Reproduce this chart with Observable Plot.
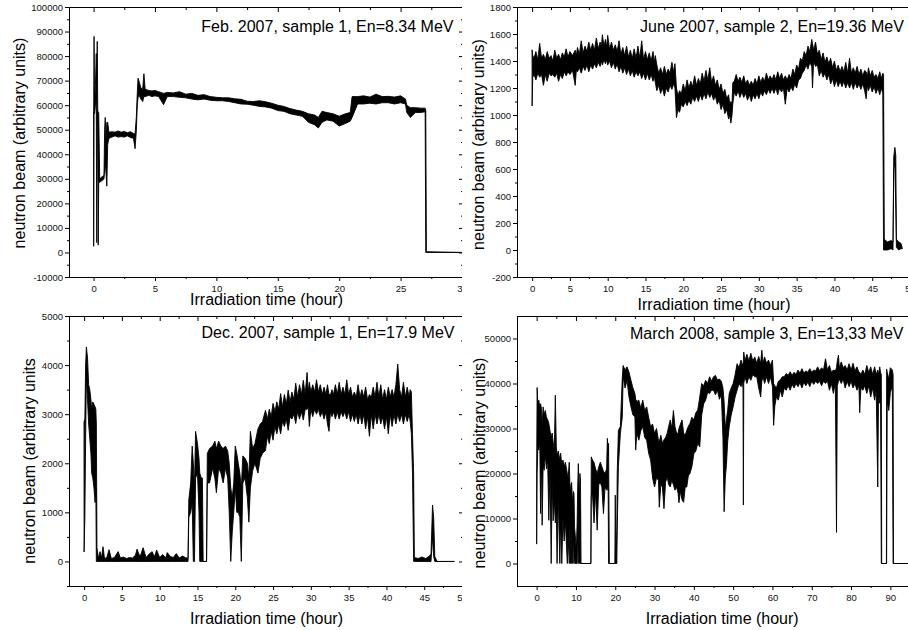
<!DOCTYPE html>
<html>
<head>
<meta charset="utf-8">
<script src="https://cdn.jsdelivr.net/npm/d3@7"></script>
<script src="https://cdn.jsdelivr.net/npm/@observablehq/plot@0.6"></script>
<style>
  html, body { margin: 0; padding: 0; background: #fff; }
  #fig { position: relative; width: 908px; height: 630px; overflow: hidden; background: #fff;
         font-family: "Liberation Sans", Arial, sans-serif; }
  .cell { position: absolute; overflow: hidden; }
  .cell svg { display: block; max-width: none !important; }
</style>
</head>
<body>
<div id="fig"></div>
<script>
// ---------- data: [hour, low envelope, high envelope] ----------
const feb07Samples = [
  [0.00,57000,57000],[0.01,2500,57000],[0.04,57000,88000],[0.08,56500,60000],[0.15,60000,68000],
  [0.22,62000,81000],[0.26,4000,70000],[0.30,58000,86000],[0.34,50000,58000],[0.38,3000,57000],
  [0.42,29000,57000],[0.50,28500,30000],[0.60,29000,30500],[0.75,29500,31000],[0.85,30000,31500],
  [0.90,34000,50000],[0.95,36000,55000],[1.02,32000,45000],[1.08,27000,53000],[1.15,44000,53000],
  [1.25,46500,49000],[1.50,47000,49200],[1.75,47500,49000],[2.00,47000,49500],[2.25,47200,49000],
  [2.50,47000,49300],[2.75,47500,48800],[3.00,46800,49200],[3.25,46500,48500],[3.38,42300,48200],
  [3.48,49500,55000],[3.56,60000,65000],[3.62,63000,71000],[3.72,64000,69500],[3.85,62500,67000],
  [4.00,61500,66500],[4.10,63500,72800],[4.20,63500,66500],[4.50,64000,66000],[4.75,63500,65800],
  [5.00,63800,66000],[5.30,63500,65500],[5.70,60200,64800],[6.00,63500,65200],[6.50,63500,65000],
  [7.00,63200,65500],[7.50,63000,64500],[8.00,62500,64800],[8.50,62200,64000],[9.00,62500,64300],
  [9.50,62000,63500],[10.0,61800,63200],[10.5,61800,63000],[11.0,61500,63000],[11.5,61000,62600],
  [12.0,60500,62400],[12.5,60400,61600],[13.0,60000,61500],[13.5,59500,61800],[14.0,59300,61400],
  [14.5,58800,60800],[15.0,57800,60000],[15.5,57500,59500],[16.0,56500,58600],[16.5,56000,58000],
  [17.0,55500,57500],[17.5,53000,56500],[18.0,52000,56000],[18.3,50700,55000],[18.6,53000,57500],
  [19.0,54000,57000],[19.5,53500,56500],[20.0,51500,55500],[20.5,52500,56500],[20.9,53500,57000],
  [21.05,55000,63500],[21.5,60500,63500],[22.0,60500,63800],[22.5,60800,63300],[23.0,60500,64500],
  [23.5,61000,63500],[24.0,61000,63600],[24.5,60500,63300],[25.0,61000,63800],[25.4,60500,62500],
  [25.5,57000,60000],[25.8,55000,59000],[26.2,57000,59000],[26.6,57000,58800],[27.0,57300,58800],
  [27.05,0,58000],[27.1,0,300],[30.0,0,0]
];

const jun07Samples = [
  [0.00,1070,1480],[0.08,1280,1440],[0.25,1300,1420],[0.5,1260,1470],[0.75,1310,1410],[1.0,1280,1530],
  [1.25,1300,1420],[1.5,1220,1450],[1.75,1300,1410],[2.0,1250,1470],[2.25,1310,1420],[2.5,1290,1440],
  [2.75,1300,1400],[3.0,1280,1480],[3.25,1310,1420],[3.5,1250,1450],[3.75,1300,1410],[4.0,1270,1460],
  [4.25,1320,1430],[4.5,1290,1490],[4.75,1320,1430],[5.0,1300,1470],[5.35,1330,1440],[5.7,1220,1480],
  [5.85,1330,1440],[6.0,1320,1500],[6.25,1350,1450],[6.5,1310,1550],[6.75,1360,1460],[7.0,1330,1510],
  [7.25,1370,1470],[7.5,1320,1540],[7.75,1370,1480],[8.0,1340,1530],[8.25,1380,1480],[8.5,1350,1570],
  [8.75,1390,1490],[9.0,1360,1540],[9.15,1400,1500],[9.3,1370,1595],[9.5,1410,1510],[9.7,1380,1560],
  [9.85,1410,1500],[10.0,1370,1590],[10.25,1400,1490],[10.5,1350,1540],[10.75,1390,1480],[11.0,1340,1520],
  [11.25,1380,1470],[11.5,1320,1550],[11.75,1360,1450],[12.0,1310,1500],[12.25,1350,1440],[12.5,1300,1510],
  [12.75,1340,1430],[13.0,1290,1480],[13.25,1330,1420],[13.5,1280,1490],[13.75,1320,1420],[14.0,1290,1510],
  [14.25,1320,1420],[14.5,1270,1550],[14.75,1310,1410],[15.0,1260,1470],[15.25,1310,1410],[15.5,1260,1460],
  [15.75,1300,1400],[16.0,1250,1470],[16.15,1290,1390],[16.3,1240,1440],[16.5,1180,1370],[16.75,1220,1310],
  [17.0,1160,1350],[17.25,1200,1300],[17.5,1140,1360],[17.75,1200,1300],[18.0,1170,1340],[18.25,1220,1310],
  [18.5,1190,1390],[18.7,1230,1320],[18.9,1200,1380],[19.1,980,1200],[19.3,1040,1140],[19.5,1020,1180],
  [19.75,1080,1160],[20.0,1060,1230],[20.25,1100,1180],[20.5,1070,1260],[20.75,1110,1200],[21.0,1080,1250],
  [21.25,1130,1210],[21.5,1100,1290],[21.75,1140,1220],[22.0,1100,1270],[22.25,1150,1230],[22.5,1110,1310],
  [22.75,1160,1250],[23.0,1120,1330],[23.25,1170,1260],[23.5,1130,1350],[23.75,1160,1240],[24.0,1110,1290],
  [24.25,1140,1220],[24.5,1080,1260],[24.75,1110,1190],[25.0,1040,1230],[25.25,1080,1160],[25.5,1010,1190],
  [25.75,1040,1120],[26.0,970,1150],[26.15,1000,1080],[26.3,940,1100],[26.45,1000,1080],[26.55,1080,1240],
  [26.75,1170,1250],[27.0,1140,1300],[27.25,1180,1250],[27.5,1130,1280],[27.75,1170,1240],[28.0,1130,1290],
  [28.25,1160,1230],[28.5,1110,1260],[28.75,1150,1220],[29.0,1100,1250],[29.25,1150,1220],[29.5,1120,1270],
  [29.75,1160,1230],[30.0,1120,1290],[30.25,1170,1240],[30.5,1140,1280],[30.75,1180,1250],[31.0,1150,1310],
  [31.25,1190,1260],[31.5,1160,1290],[31.75,1200,1260],[32.0,1160,1300],[32.25,1200,1260],[32.5,1150,1320],
  [32.75,1200,1270],[33.0,1170,1310],[33.25,1200,1260],[33.5,1080,1290],[33.75,1200,1260],[34.0,1170,1300],
  [34.25,1210,1270],[34.5,1180,1340],[34.75,1230,1300],[35.0,1200,1370],[35.25,1260,1340],[35.5,1270,1420],
  [35.75,1310,1400],[36.0,1330,1470],[36.25,1370,1440],[36.5,1340,1510],[36.75,1390,1470],[37.0,1360,1560],
  [37.1,1200,1530],[37.25,1400,1480],[37.5,1360,1540],[37.75,1370,1450],[38.0,1290,1480],[38.25,1330,1410],
  [38.5,1280,1460],[38.75,1310,1390],[39.0,1260,1430],[39.25,1300,1380],[39.5,1230,1420],[39.75,1270,1350],
  [40.0,1210,1400],[40.25,1260,1330],[40.5,1210,1370],[40.75,1250,1320],[41.0,1210,1360],[41.25,1250,1320],
  [41.5,1200,1390],[41.75,1240,1310],[42.0,1200,1420],[42.25,1240,1310],[42.5,1190,1350],[42.75,1240,1310],
  [43.0,1200,1360],[43.25,1230,1300],[43.5,1190,1340],[43.75,1230,1290],[44.0,1180,1330],[44.2,1120,1320],
  [44.35,1220,1280],[44.5,1180,1350],[44.75,1220,1290],[45.0,1170,1330],[45.25,1210,1280],[45.5,1160,1300],
  [45.75,1200,1270],[46.0,1150,1320],[46.2,1200,1270],[46.4,1160,1310],[46.5,0,1300],
  [46.6,0,80],[47.0,0,60],[47.5,10,70],[47.75,0,60],[47.85,600,690],[48.0,640,760],[48.12,300,700],
  [48.2,20,80],[48.5,0,60],[48.8,10,50],[49.0,10,10]
];

const dec07Samples = [
  [0.00,200,2850],[0.10,900,2900],[0.20,2500,4000],[0.30,3800,4370],[0.45,3300,4150],[0.60,2800,3600],
  [0.75,2500,3500],[0.90,2200,3300],[1.00,1800,3100],[1.15,1700,3250],[1.30,1500,3200],[1.45,1200,3150],
  [1.55,1500,3100],[1.62,0,2800],[1.70,0,280],[1.90,0,60],[2.10,0,200],[2.30,0,70],[2.50,0,300],
  [2.70,0,60],[3.00,0,80],[3.30,0,240],[3.60,0,60],[4.00,0,80],[4.50,0,200],[4.80,0,70],[5.20,0,90],
  [5.60,0,60],[6.00,0,80],[6.40,0,70],[6.80,0,130],[7.00,0,250],[7.40,0,90],[7.80,0,280],[8.20,0,80],
  [8.60,0,150],[9.00,0,200],[9.30,0,90],[9.60,0,230],[10.0,0,80],[10.4,0,140],[10.8,0,70],[11.0,0,180],
  [11.4,0,100],[11.8,0,80],[12.2,0,160],[12.6,0,70],[13.0,0,110],[13.4,0,80],[13.75,0,60],
  [13.85,900,1250],[14.10,1000,1600],[14.30,1200,2350],[14.45,0,2000],[14.60,0,1500],[14.75,1700,2650],
  [15.00,1800,2400],[15.20,1000,2100],[15.30,0,1800],[15.50,0,1700],[15.65,0,1700],[15.75,0,0],
  [16.20,0,0],[16.30,1600,2200],[16.60,1600,2300],[17.00,1900,2350],[17.30,1700,2450],[17.50,1400,2300],
  [17.80,1900,2450],[18.10,1800,2350],[18.40,1600,2300],[18.70,1900,2350],[19.00,1700,2250],
  [19.20,1000,2000],[19.40,0,1500],[19.60,600,1300],[19.80,1000,1600],[20.00,1500,2350],[20.20,1000,2200],
  [20.40,1000,2000],[20.60,900,1800],[20.80,0,1500],[21.00,1600,2150],[21.30,1700,2100],[21.60,1300,2000],
  [21.80,800,1700],[22.00,1500,2650],[22.30,1850,2300],[22.60,2000,2400],[23.00,1800,2700],
  [23.30,2100,2800],[23.60,2200,2850],[24.00,2260,3080],[24.25,2550,2900],[24.50,2400,3100],
  [24.75,2650,2950],[25.00,2470,3220],[25.25,2750,3050],[25.50,2600,3250],[25.75,2800,3100],
  [26.00,2600,3420],[26.25,2850,3150],[26.50,2750,3400],[26.75,2900,3200],[27.00,2670,3490],
  [27.25,2950,3250],[27.50,2900,3450],[27.75,3000,3300],[28.00,2810,3630],[28.25,3050,3350],
  [28.50,2900,3600],[28.75,3050,3400],[29.00,2880,3690],[29.25,3100,3400],[29.50,3100,3850],
  [29.65,3150,3450],[29.80,2750,3650],[30.00,3100,3450],[30.25,2950,3600],[30.50,3100,3450],
  [30.75,3000,3700],[31.00,3100,3450],[31.25,2950,3600],[31.50,3050,3400],[31.75,2900,3550],
  [32.00,3050,3400],[32.20,2800,3600],[32.40,2650,3400],[32.60,3050,3400],[32.80,2950,3500],
  [33.00,3050,3400],[33.25,2900,3600],[33.50,3050,3400],[33.75,2900,3650],[34.00,3050,3400],
  [34.25,2950,3550],[34.50,3050,3400],[34.75,2900,3700],[35.00,3050,3400],[35.25,2850,3550],
  [35.50,3000,3350],[35.75,2850,3450],[36.00,3000,3350],[36.25,2800,3600],[36.50,3000,3350],
  [36.75,2800,3500],[37.00,3000,3350],[37.25,2700,3550],[37.50,2950,3300],[37.75,2550,3400],
  [38.00,3000,3350],[38.25,2700,3550],[38.50,3000,3350],[38.75,2800,3650],[39.00,3000,3350],
  [39.25,2800,3600],[39.50,2950,3300],[39.75,2700,3500],[40.00,2950,3300],[40.25,2600,3550],
  [40.50,3000,3350],[40.75,2750,3500],[41.00,3000,3350],[41.25,2800,3600],[41.50,3000,4020],
  [41.75,2850,3500],[42.00,3000,3350],[42.25,2800,3650],[42.50,3000,3350],[42.75,2850,3550],
  [43.00,3000,3350],[43.15,2850,3500],[43.30,2600,3450],[43.45,1800,2600],
  [43.60,0,1800],[43.70,0,80],[44.20,0,60],[44.70,0,90],[45.20,0,60],[45.60,0,100],[45.90,0,150],
  [46.10,500,1150],[46.25,100,900],[46.40,0,100],[46.70,0,0],[49.00,0,0]
];

const mar08Samples = [
  [0.00,4400,20000],[0.12,20000,39100],[0.30,26000,35500],[0.55,25200,36300],[0.80,27000,34800],
  [1.00,11100,35500],[1.20,24000,34500],[1.40,8500,31000],[1.65,22000,34800],[1.90,20700,33000],
  [2.20,24000,34000],[2.50,21000,32500],[2.80,23000,32000],[3.10,9600,31100],[3.40,21000,29500],
  [3.70,0,28000],[3.95,18000,29000],[4.20,9500,27000],[4.50,14000,25000],[4.75,9000,37400],
  [5.00,12000,26000],[5.20,0,24000],[5.50,15000,25000],[5.90,0,23000],[6.10,9500,24500],
  [6.40,0,22000],[6.70,10000,23000],[7.00,5000,21500],[7.30,9500,22500],[7.80,0,20000],
  [8.00,6000,19000],[8.30,0,22500],[8.45,10000,18000],[8.60,0,16000],[8.75,8000,17500],
  [8.90,0,18000],[9.05,5000,15000],[9.20,0,14000],[9.35,7000,16000],[9.50,0,15500],[9.65,2000,8000],
  [9.80,0,6500],[10.1,0,3000],[10.3,0,9000],[10.45,8000,17000],[10.6,0,22200],[10.75,10000,18000],
  [10.9,0,14000],[11.0,12000,20000],[11.15,0,18500],[11.3,0,0],[13.8,0,0],[13.9,15000,23700],
  [14.2,15500,23000],[14.6,9000,22500],[15.0,16000,21000],[15.4,7400,20000],[15.8,17500,21500],
  [16.2,18000,22500],[16.6,17000,21500],[17.0,11100,20500],[17.4,17000,20000],[17.8,16300,21000],
  [18.0,17000,27800],[18.2,16000,24000],[18.3,0,26700],[18.5,0,0],[19.9,0,0],[20.0,0,15200],
  [20.2,0,0],[20.4,0,7400],[20.5,7400,20000],[20.8,21500,29600],[21.3,28900,30400],[21.8,32600,41500],
  [22.0,41500,44000],[22.5,39000,43000],[23.0,40700,43700],[23.5,37000,42500],[24.0,34800,40700],
  [24.5,33000,39000],[25.0,32600,37800],[25.2,25200,36500],[25.5,29000,36000],[26.0,27400,36300],
  [26.5,29500,34500],[27.0,30400,36300],[27.5,28000,34000],[28.0,27400,34800],[28.5,24500,32500],
  [29.0,23000,30400],[29.5,19000,31000],[30.0,17000,28900],[30.5,19000,30000],[31.0,18500,27400],
  [31.2,12500,27000],[31.6,17500,28500],[32.0,17000,26700],[32.4,12200,27500],[32.8,18000,28000],
  [33.2,19300,28900],[33.6,17500,30500],[34.0,17000,31900],[34.4,18500,30000],[34.8,17500,34000],
  [35.2,16300,30400],[35.6,17000,29000],[36.0,15600,28900],[36.2,13500,30000],[36.6,16000,31000],
  [37.0,14100,31900],[37.4,13600,29000],[37.8,17000,28500],[38.2,17000,29600],[38.6,19500,30500],
  [39.0,20000,31100],[39.5,21500,32500],[40.0,24400,31900],[40.5,25000,33500],[41.0,26700,34100],
  [41.5,25900,37000],[42.0,33000,40000],[42.5,35500,39500],[43.0,36300,40700],[43.5,38000,40000],
  [44.0,37800,41500],[44.5,38500,40500],[45.0,38500,41500],[45.5,37500,41800],[46.0,38500,40800],
  [46.5,36500,41000],[47.0,37500,40500],[47.4,28000,39000],[47.7,11500,36000],[48.0,19000,30000],
  [48.3,22000,32000],[48.6,27000,34000],[49.0,30400,37800],[49.5,33000,39000],[50.0,34800,40000],
  [50.5,37000,42000],[51.0,38500,44400],[51.5,40000,43500],[52.0,39300,45200],[52.3,40500,44000],
  [52.5,39000,44500],[52.6,13000,45000],[52.7,40000,47000],[53.0,41500,45000],[53.5,40000,46500],
  [54.0,41500,45000],[54.5,40700,46700],[55.0,42000,45000],[55.5,41500,45900],[56.0,41500,44500],
  [56.5,39000,46000],[57.0,37000,44500],[57.3,40500,47400],[57.6,41500,44500],[58.0,40000,45900],
  [58.5,41500,44500],[59.0,40000,45200],[59.5,41500,44000],[60.0,39300,45200],[60.3,30700,40000],
  [60.6,35000,39500],[61.0,37000,39000],[61.5,36300,40500],[62.0,38500,40800],[62.5,37000,41500],
  [63.0,39000,41500],[63.5,38500,42200],[64.0,39500,41800],[64.5,38500,42600],[65.0,39800,41800],
  [65.5,39000,42500],[66.0,40000,42000],[66.5,39300,43000],[67.0,40200,42300],[67.5,39000,43300],
  [68.0,40300,42300],[68.5,39500,42800],[69.0,40300,42500],[69.5,39300,43300],[70.0,40500,42500],
  [70.5,39800,43000],[71.0,40500,42800],[71.5,40000,43700],[72.0,40500,42800],[72.5,39500,43500],
  [73.0,40500,43000],[73.5,40000,45500],[74.0,40500,43000],[74.5,38500,44000],[75.0,40000,42500],
  [75.5,37800,43000],[76.0,40000,42800],[76.3,6900,43500],[76.5,39500,45000],[76.8,40500,46300],
  [77.0,41000,43500],[77.5,40000,44800],[78.0,41000,43500],[78.5,39000,44000],[79.0,40500,43000],
  [79.5,39300,44400],[80.0,40500,43000],[80.5,39000,44500],[81.0,40000,42800],[81.5,38500,43700],
  [82.0,39500,42500],[82.2,33500,42500],[82.5,39000,42000],[83.0,38500,43000],[83.5,39500,42000],
  [84.0,37800,44000],[84.5,39500,42500],[85.0,37000,43700],[85.5,39000,42000],[86.0,36300,43700],
  [86.4,38500,42000],[86.8,17000,43000],[87.0,38000,42000],[87.3,35600,43700],[87.5,37000,42500],
  [87.7,0,42000],[87.8,0,0],[89.0,0,0],[89.05,0,43200],[89.2,36000,42500],
  [89.6,34000,41000],[90.0,38000,43500],[90.5,39500,43000],[90.7,0,42000],[90.8,0,0],[95.0,0,0]
];

// ---------- tick values ----------
const feb07XTicks = [0, 5, 10, 15, 20, 25, 30];
const feb07XMinor = [2.5, 7.5, 12.5, 17.5, 22.5, 27.5];
const feb07YTicks = [-10000, 0, 10000, 20000, 30000, 40000, 50000, 60000, 70000, 80000, 90000, 100000];
const feb07YMinor = [-5000, 5000, 15000, 25000, 35000, 45000, 55000, 65000, 75000, 85000, 95000];

const jun07XTicks = [0, 5, 10, 15, 20, 25, 30, 35, 40, 45, 50];
const jun07XMinor = [2.5, 7.5, 12.5, 17.5, 22.5, 27.5, 32.5, 37.5, 42.5, 47.5];
const jun07YTicks = [-200, 0, 200, 400, 600, 800, 1000, 1200, 1400, 1600, 1800];
const jun07YMinor = [-100, 100, 300, 500, 700, 900, 1100, 1300, 1500, 1700];

const dec07XTicks = [0, 5, 10, 15, 20, 25, 30, 35, 40, 45, 50];
const dec07XMinor = [2.5, 7.5, 12.5, 17.5, 22.5, 27.5, 32.5, 37.5, 42.5, 47.5];
const dec07YTicks = [0, 1000, 2000, 3000, 4000, 5000];
const dec07YMinor = [-500, 500, 1500, 2500, 3500, 4500];

const mar08XTicks = [0, 10, 20, 30, 40, 50, 60, 70, 80, 90];
const mar08XMinor = [5, 15, 25, 35, 45, 55, 65, 75, 85];
const mar08YTicks = [0, 10000, 20000, 30000, 40000, 50000];
const mar08YMinor = [5000, 15000, 25000, 35000, 45000];

// ---------- texts ----------
const panelTitles = [
  "Feb. 2007, sample 1, En=8.34 MeV",
  "June 2007, sample 2, En=19.36 MeV",
  "Dec. 2007, sample 1, En=17.9 MeV",
  "March 2008, sample 3, En=13,33 MeV"
];
const xAxisTitle = "Irradiation time (hour)";
const yAxisTitles = [
  "neutron beam (arbitrary units)",
  "neutron beam (arbitrary units)",
  "neutron beam (arbitrary units",
  "neutron beam (arbitrary units)"
];

// ---------- panel builder ----------
function buildPanel(c) {
  const rows = c.samples.map(([hour, low, high]) => ({hour, low, high}));
  const fmt = d => String(d);
  const marks = [
    Plot.areaY(rows, {x: "hour", y1: "low", y2: "high", fill: "#000", stroke: "#000",
                      strokeWidth: 0.9, strokeLinejoin: "round", clip: true}),
    Plot.frame({stroke: "#000", strokeWidth: 1}),
    Plot.axisX({ticks: c.xTicks, tickSize: 4, tickPadding: 4, tickFormat: fmt, label: null, fontSize: 9.5, fill: "#111"}),
    Plot.axisX({ticks: c.xMinor, tickSize: 2, fill: "none", label: null}),
    Plot.axisX({anchor: "top", ticks: c.xTicks, tickSize: -4, fill: "none", label: null}),
    Plot.axisX({anchor: "top", ticks: c.xMinor, tickSize: -2, fill: "none", label: null}),
    Plot.axisY({ticks: c.yTicks, tickSize: 4, tickPadding: 2.5, tickFormat: fmt, label: null, fontSize: 9.5, fill: "#111"}),
    Plot.axisY({ticks: c.yMinor, tickSize: 2, fill: "none", label: null}),
    Plot.text([c.title], {text: d => d, frameAnchor: "top-right", textAnchor: "end", lineAnchor: "bottom",
                          dx: c.titleDx, dy: c.titleDy, fontSize: 16, fill: "#000"}),
    Plot.text([xAxisTitle], {text: d => d, frameAnchor: "bottom", textAnchor: "middle", lineAnchor: "bottom",
                             dx: c.xlDx, dy: c.xlDy, fontSize: 16, fill: "#000"}),
    Plot.text([c.yTitle], {text: d => d, frameAnchor: "left", rotate: -90, textAnchor: "middle", lineAnchor: "bottom",
                           dx: c.ylDx, dy: c.ylDy, fontSize: 16, fill: "#000"})
  ];
  if (c.rightTicks) {
    marks.push(Plot.axisY({anchor: "right", ticks: c.yTicks, tickSize: -4, fill: "none", label: null}));
    marks.push(Plot.axisY({anchor: "right", ticks: c.yMinor, tickSize: -2, fill: "none", label: null}));
  }
  return Plot.plot({
    width: c.width, height: c.height,
    marginLeft: c.ml, marginRight: c.mr, marginTop: c.mt, marginBottom: c.mb,
    style: {fontFamily: '"Liberation Sans", Arial, sans-serif', fontSize: "9.5px", color: "#000",
            background: "transparent", overflow: "visible", maxWidth: "none"},
    x: {domain: c.xDomain, label: null},
    y: {domain: c.yDomain, label: null},
    marks
  });
}

const panels = [
  {left: 0, top: 0, cellW: 462, samples: feb07Samples, xDomain: [-2, 30], yDomain: [-10000, 100000],
   xTicks: feb07XTicks, xMinor: feb07XMinor, yTicks: feb07YTicks, yMinor: feb07YMinor, rightTicks: true,
   width: 470, height: 315, ml: 69, mr: 8, mt: 7, mb: 38,
   title: panelTitles[0], yTitle: yAxisTitles[0], titleDx: -9, titleDy: 24.5, xlDx: 0.5, xlDy: 27.8, ylDx: -44.5, ylDy: 0.5},
  {left: 462, top: 0, cellW: 446, samples: jun07Samples, xDomain: [-2, 50], yDomain: [-200, 1800],
   xTicks: jun07XTicks, xMinor: jun07XMinor, yTicks: jun07YTicks, yMinor: jun07YMinor, rightTicks: false,
   width: 448, height: 315, ml: 55, mr: 0, mt: 7, mb: 38,
   title: panelTitles[1], yTitle: yAxisTitles[1], titleDx: -6.7, titleDy: 24.5, xlDx: 0, xlDy: 32, ylDx: -33.8, ylDy: 2},
  {left: 0, top: 308, cellW: 462, samples: dec07Samples, xDomain: [-2, 50], yDomain: [-500, 5000],
   xTicks: dec07XTicks, xMinor: dec07XMinor, yTicks: dec07YTicks, yMinor: dec07YMinor, rightTicks: true,
   width: 470, height: 322, ml: 69, mr: 8, mt: 8, mb: 44,
   title: panelTitles[2], yTitle: yAxisTitles[2], titleDx: -8, titleDy: 21.5, xlDx: 0.5, xlDy: 37.2, ylDx: -34.8, ylDy: 9.5},
  {left: 462, top: 308, cellW: 446, samples: mar08Samples, xDomain: [-5, 95], yDomain: [-5000, 55000],
   xTicks: mar08XTicks, xMinor: mar08XMinor, yTicks: mar08YTicks, yMinor: mar08YMinor, rightTicks: false,
   width: 448, height: 322, ml: 55, mr: 0, mt: 8, mb: 44,
   title: panelTitles[3], yTitle: yAxisTitles[3], titleDx: -7, titleDy: 22, xlDx: 8.2, xlDy: 37.2, ylDx: -32.5, ylDy: 11.5}
];

const fig = document.getElementById("fig");
for (const p of panels) {
  const cell = document.createElement("div");
  cell.className = "cell";
  cell.style.left = p.left + "px";
  cell.style.top = p.top + "px";
  cell.style.width = p.cellW + "px";
  cell.style.height = p.height + "px";
  cell.appendChild(buildPanel(p));
  fig.appendChild(cell);
}
</script>
</body>
</html>
